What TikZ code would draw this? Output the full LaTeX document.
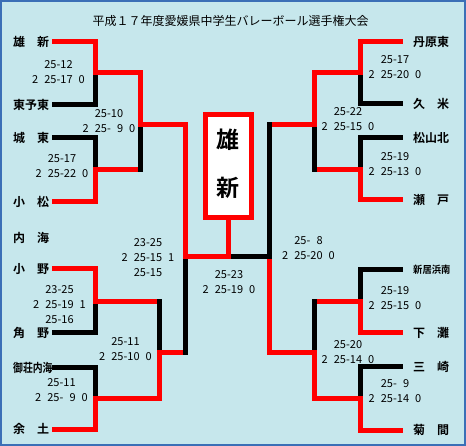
\documentclass[tikz,border=0pt]{standalone}
\usepackage{fontspec}
\setmainfont{Noto Sans CJK JP}[BoldFont={Noto Sans CJK JP Bold}]
\usepackage{graphicx}
\definecolor{bgc}{HTML}{C6E7EC}
\definecolor{bdc}{HTML}{3B6FB6}
\definecolor{rd}{HTML}{FF0000}
\newcommand\hs{\hspace*{0.55em}}
\newcommand\hd{\hphantom{0}}
\begin{document}
\begin{tikzpicture}[x=1pt,y=-1pt,
  team/.style={inner sep=0pt, font=\fontsize{12}{12}\selectfont\bfseries},
  tl/.style={anchor=west, team},
  score/.style={inner sep=0pt, align=center, font=\fontsize{11}{15}\selectfont},
  winln/.style={draw=rd, line width=5pt, line cap=rect},
  losln/.style={draw=black, line width=5pt, line cap=rect},
  hatln/.style={draw=black!40, line width=5pt, line cap=rect, postaction={draw=black, line width=5pt, dash pattern=on 1pt off 1pt}},
]
\useasboundingbox (0,0) rectangle (466,446);
\fill[bgc] (0,0) rectangle (466,446);
\draw[bdc, line width=2pt] (1,1) rectangle (465,445);

\node[font=\fontsize{12}{12}\selectfont, inner sep=0pt] (title) at (230.5,21) {平成１７年度愛媛県中学生バレーボール選手権大会};

% left team labels
\node[tl] (tL1) at (13,42) {雄　新};
\node[tl] (tL2) at (13,105) {東予東};
\node[tl] (tL3) at (13,138) {城　東};
\node[tl] (tL4) at (13,202) {小　松};
\node[tl] (tL0) at (13,238) {内　海};
\node[tl] (tL5) at (13,269) {小　野};
\node[tl] (tL6) at (13,333) {角　野};
\node[tl] (tL7) at (13,368) {\scalebox{0.82}[1]{御荘内海}};
\node[tl] (tL8) at (13,429) {余　土};
% right team labels
\node[tl] (tR1) at (413,42) {丹原東};
\node[tl] (tR2) at (413,104) {久　米};
\node[tl] (tR3) at (413,138) {松山北};
\node[tl] (tR4) at (413,200) {瀬　戸};
\node[tl, font=\fontsize{10}{10}\selectfont\bfseries] (tR5) at (413,270) {\scalebox{0.93}[1]{新居浜南}};
\node[tl] (tR6) at (413,333) {下　灘};
\node[tl] (tR7) at (413,367) {三　崎};
\node[tl] (tR8) at (413,430) {菊　間};

% coordinates left
\coordinate (a1) at (54.5,42);  \coordinate (a1v) at (95,42);
\coordinate (a2) at (54.5,105); \coordinate (a2v) at (95,105);
\coordinate (a3) at (54.5,138); \coordinate (a3v) at (95,138);
\coordinate (a4) at (54.5,202); \coordinate (a4v) at (95,202);
\coordinate (a5) at (54.5,269); \coordinate (a5v) at (95,269);
\coordinate (a6) at (54.5,333); \coordinate (a6v) at (95,333);
\coordinate (a7) at (54.5,368); \coordinate (a7v) at (95,368);
\coordinate (a8) at (54.5,429); \coordinate (a8v) at (95,429);
\coordinate (mA) at (95,73);  \coordinate (mB) at (95,170);
\coordinate (mC) at (95,302); \coordinate (mD) at (95,398);
\coordinate (eT) at (140.5,73); \coordinate (eB) at (140.5,170); \coordinate (mE) at (140.5,125);
\coordinate (fT) at (159,302); \coordinate (fB) at (159,398); \coordinate (mF) at (159,353);
\coordinate (gT) at (185.5,125); \coordinate (gB) at (185.5,353); \coordinate (mG) at (185.5,257);
\coordinate (F) at (228,257);
% coordinates right
\coordinate (b1) at (400.5,42);  \coordinate (b1v) at (360.5,42);
\coordinate (b2) at (400.5,104); \coordinate (b2v) at (360.5,104);
\coordinate (b3) at (400.5,138); \coordinate (b3v) at (360.5,138);
\coordinate (b4) at (400.5,200); \coordinate (b4v) at (360.5,200);
\coordinate (b5) at (400.5,270); \coordinate (b5v) at (360.5,270);
\coordinate (b6) at (400.5,333); \coordinate (b6v) at (360.5,333);
\coordinate (b7) at (400.5,367); \coordinate (b7v) at (360.5,367);
\coordinate (b8) at (400.5,430); \coordinate (b8v) at (360.5,430);
\coordinate (nA) at (360.5,73);  \coordinate (nB) at (360.5,170);
\coordinate (nC) at (360.5,302); \coordinate (nD) at (360.5,398);
\coordinate (pT) at (314.5,73); \coordinate (pB) at (314.5,170); \coordinate (nE) at (314.5,125);
\coordinate (qT) at (314.5,302); \coordinate (qB) at (314.5,398); \coordinate (nF) at (314.5,353);
\coordinate (hT) at (269.5,125); \coordinate (hB) at (269.5,353); \coordinate (nG) at (269.5,257);

% round 1 losers
\draw[hatln] (a2) -- (a2v) -- (mA);
\draw[losln] (a3) -- (a3v) -- (mB);
\draw[losln] (a6) -- (a6v) -- (mC);
\draw[losln] (a7) -- (a7v) -- (mD);
\draw[hatln] (b2) -- (b2v) -- (nA);
\draw[losln] (b3) -- (b3v) -- (nB);
\draw[losln] (b5) -- (b5v) -- (nC);
\draw[losln] (b7) -- (b7v) -- (nD);
% round 1 winners
\draw[winln] (a1) -- (a1v) -- (mA) -- (eT);
\draw[winln] (a4) -- (a4v) -- (mB) -- (eB);
\draw[winln] (a5) -- (a5v) -- (mC) -- (fT);
\draw[winln] (a8) -- (a8v) -- (mD) -- (fB);
\draw[winln] (b1) -- (b1v) -- (nA) -- (pT);
\draw[winln] (b4) -- (b4v) -- (nB) -- (pB);
\draw[winln] (b6) -- (b6v) -- (nC) -- (qT);
\draw[winln] (b8) -- (b8v) -- (nD) -- (qB);
% round 2
\draw[losln] (eB) -- (mE);
\draw[losln] (fT) -- (mF);
\draw[losln] (pB) -- (nE);
\draw[losln] (qT) -- (nF);
\draw[winln] (eT) -- (mE) -- (gT);
\draw[winln] (fB) -- (mF) -- (gB);
\draw[winln] (pT) -- (nE) -- (hT);
\draw[winln] (qB) -- (nF) -- (hB);
% semifinals
\draw[losln] (gB) -- (mG);
\draw[losln] (hT) -- (nG);
\draw[winln] (gT) -- (mG);
\draw[winln] (hB) -- (nG);
% final
\draw[losln] (nG) -- (F);
\draw[winln] (mG) -- (F);

% champion box
\node[draw=rd, line width=5pt, fill=white, minimum width=46pt, minimum height=103pt, inner sep=0pt] (champ) at (228,166) {};
\node[font=\fontsize{23}{23}\selectfont\bfseries, inner sep=0pt] (cw1) at (228,140) {雄};
\node[font=\fontsize{23}{23}\selectfont\bfseries, inner sep=0pt] (cw2) at (228,188) {新};
\draw[winln] (champ.south) -- (F);

% scores left
\node[score] (sA) at (58.5,72) {25-12\\2\hs25-17\hs0};
\node[score] (sB) at (62,166) {25-17\\2\hs25-22\hs0};
\node[score] (sC) at (59.5,305) {23-25\\2\hs25-19\hs1\\25-16};
\node[score] (sD) at (61.5,390.5) {25-11\\2\hs25-\hd9\hs0};
\node[score] (sE) at (109,121.5) {25-10\\2\hs25-\hd9\hs0};
\node[score] (sF) at (125.5,349) {25-11\\2\hs25-10\hs0};
\node[score] (sG) at (148,258) {23-25\\2\hs25-15\hs1\\25-15};
\node[score] (sH) at (229,282.5) {25-23\\2\hs25-19\hs0};
% scores right
\node[score] (rA) at (395,67) {25-17\\2\hs25-20\hs0};
\node[score] (rB) at (395,164) {25-19\\2\hs25-13\hs0};
\node[score] (rC) at (395,298) {25-19\\2\hs25-15\hs0};
\node[score] (rD) at (395,391) {25-\hd9\\2\hs25-14\hs0};
\node[score] (rE) at (348,119.5) {25-22\\2\hs25-15\hs0};
\node[score] (rF) at (348,352) {25-20\\2\hs25-14\hs0};
\node[score] (rG) at (308.5,248) {25-\hd8\\2\hs25-20\hs0};
\end{tikzpicture}
\end{document}
